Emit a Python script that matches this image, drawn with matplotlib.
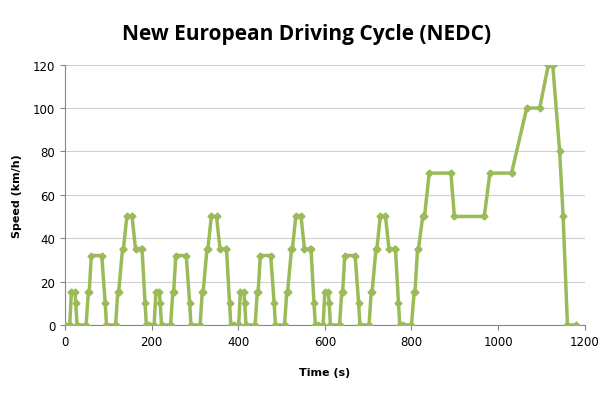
import matplotlib
matplotlib.use('Agg')
import matplotlib.pyplot as plt

# ECE-15 urban cycle (one repetition, 195 s)
ece_time = [0, 11, 15, 23, 25, 28, 49, 54, 56, 61, 85, 93, 96, 117, 122, 124, 133, 135, 143, 155, 163, 176, 178, 185, 188]
ece_speed = [0, 0, 15, 15, 10, 0, 0, 15, 15, 32, 32, 10, 0, 0, 15, 15, 35, 35, 50, 50, 35, 35, 35, 10, 0]

# EUDC extra-urban part
eudc_time = [780, 800, 806, 808, 814, 816, 826, 830, 841, 891, 899, 968, 981, 1031, 1066, 1096, 1116, 1126, 1142, 1150, 1160, 1180]
eudc_speed = [0, 0, 15, 15, 35, 35, 50, 50, 70, 70, 50, 50, 70, 70, 100, 100, 120, 120, 80, 50, 0, 0]

time = []
speed = []
for rep in range(4):
    time += [t + 195 * rep for t in ece_time]
    speed += ece_speed
time += eudc_time
speed += eudc_speed

fig = plt.figure(figsize=(6.01, 4.10), dpi=100)
ax = fig.add_axes([0.108, 0.205, 0.865, 0.635])
ax.plot(time, speed, color='#9bbb59', linewidth=2.5, marker='D', markersize=3.5, zorder=3)
ax.set_xlim(0, 1200)
ax.set_ylim(0, 120)
ax.set_xticks(range(0, 1201, 200))
ax.set_yticks(range(0, 121, 20))
ax.grid(axis='y', color='#d0d0d0', linewidth=0.8)
for s in ['top', 'right']:
    ax.spines[s].set_visible(False)
ax.spines['left'].set_color('#868686')
ax.spines['bottom'].set_color('#868686')
ax.tick_params(labelsize=8.5, color='#868686')
ax.set_xlabel('Time (s)', fontsize=8, fontweight='bold', labelpad=14)
ax.set_ylabel('Speed (km/h)', fontsize=8, fontweight='bold', labelpad=8)
fig.text(0.51, 0.915, 'New European Driving Cycle (NEDC)', ha='center', va='center',
         fontsize=15, fontweight='bold', family='Open Sans')
fig.savefig('out.png', dpi=100)
